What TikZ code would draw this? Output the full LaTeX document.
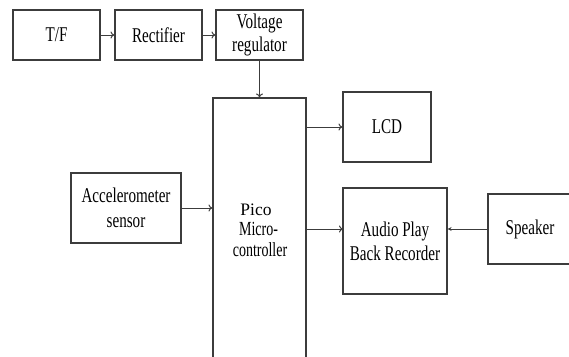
\documentclass[tikz,border=0pt]{standalone}
\usepackage{fontspec}
\setmainfont{Liberation Serif}[FakeStretch=0.72]
\newfontfamily\narrowserif{Liberation Serif}[FakeStretch=0.7]
\newfontfamily\plainserif{Liberation Serif}
\usetikzlibrary{arrows.meta}
\definecolor{ln}{HTML}{3C3C3C}
\tikzset{
  blk/.style={draw=ln, line width=1.1pt, inner sep=0pt, align=center, font=\fontsize{21}{24}\selectfont, text=black},
  ptxt/.style={inner sep=0pt, anchor=base, text=black},
  con/.style={draw=ln, line width=1pt, -{To[length=4pt,width=7pt]}},
  con2/.style={draw=ln, line width=1pt, -{Stealth[length=4pt,width=4pt]}}
}
\begin{document}
\begin{tikzpicture}[x=1pt,y=-1pt]
\useasboundingbox (0,0) rectangle (569,356);
\clip (0,0) rectangle (569,356);
\fill[white] (0,0) rectangle (569,356);
\node[blk, minimum width=87pt, minimum height=50pt] (tf) at (56.5,35) {T/F};
\node[blk, minimum width=87pt, minimum height=50pt] (rect) at (158.5,35) {Rectifier};
\node[blk, minimum width=87pt, minimum height=50pt, font=\fontsize{21}{23}\selectfont] (vr) at (259.5,35) {Voltage\\regulator};
\node[blk, minimum width=93pt, minimum height=272pt] (pico) at (259.5,234) {};
\node[ptxt, font=\plainserif\fontsize{17.5}{20}\selectfont] (picoa) at (256,215) {Pico};
\node[ptxt, font=\narrowserif\fontsize{20}{20}\selectfont] (picob) at (258.5,235) {Micro-};
\node[ptxt, font=\narrowserif\fontsize{20}{20}\selectfont] (picoc) at (260,256.5) {controller};
\node[blk, minimum width=88pt, minimum height=70pt] (lcd) at (387,127) {LCD};
\node[blk, minimum width=110pt, minimum height=70pt, font=\fontsize{21}{25}\selectfont] (acc) at (126,208) {Accelerometer\\sensor};
\node[blk, minimum width=104pt, minimum height=106pt] (audio) at (395,241) {Audio Play\\Back Recorder};
\node[blk, minimum width=84pt, minimum height=70pt] (spk) at (530,229) {Speaker};
\coordinate (pa) at (306,229);
\coordinate (aa) at (343,229);
\draw[con] (tf.east) -- (rect.west);
\draw[con] (rect.east) -- (vr.west);
\draw[con] (vr.south) -- (vr.south |- pico.north);
\draw[con] (pico.east |- lcd.west) -- (lcd.west);
\draw[con] (acc.east) -- (pico.west |- acc.east);
\draw[con] (pa) -- (aa);
\draw[con2] (spk.west) -- (audio.east |- spk.west);
\end{tikzpicture}
\end{document}
